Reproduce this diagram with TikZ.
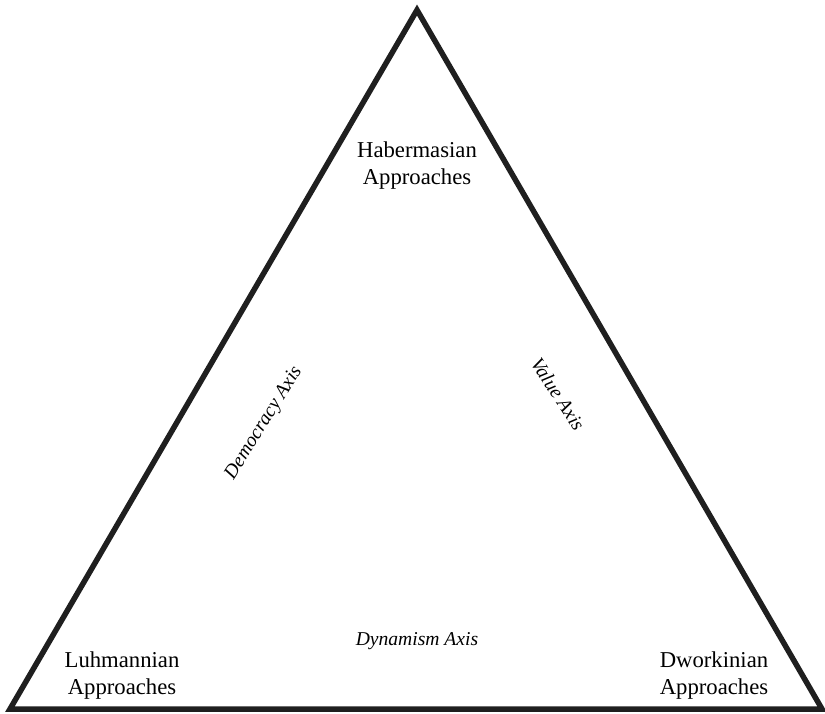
\documentclass[tikz,border=0pt]{standalone}
\usepackage{fontspec}
\setmainfont{Liberation Serif}
\begin{document}
\begin{tikzpicture}[x=1pt,y=-1pt,
  approach/.style={font=\fontsize{22.7}{27}\selectfont, align=center, inner sep=0pt},
  axislabel/.style={font=\fontsize{19.6}{23}\selectfont\itshape, inner sep=0pt}]
  \useasboundingbox (0,0) rectangle (825,714);
  % corners of the triangle
  \coordinate (top) at (417,10);
  \coordinate (bl) at (10,709);
  \coordinate (br) at (822,709);
  \draw[line width=5.5pt, line join=miter, color=black!88] (top) -- (br) -- (bl) -- cycle;
  % the three approaches at the corners
  \node[approach] (haber) at (417,165.2) {Habermasian\\Approaches};
  \node[approach] (luhm) at (122,675.2) {Luhmannian\\Approaches};
  \node[approach] (dwork) at (714,675.2) {Dworkinian\\Approaches};
  % the three axes along the sides
  \node[axislabel, rotate=58] (democ) at (264,423) {Democracy Axis};
  \node[axislabel, rotate=-57] (value) at (558,394) {Value Axis};
  \node[axislabel, anchor=base] (dyn) at (417,645) {Dynamism Axis};
\end{tikzpicture}
\end{document}
